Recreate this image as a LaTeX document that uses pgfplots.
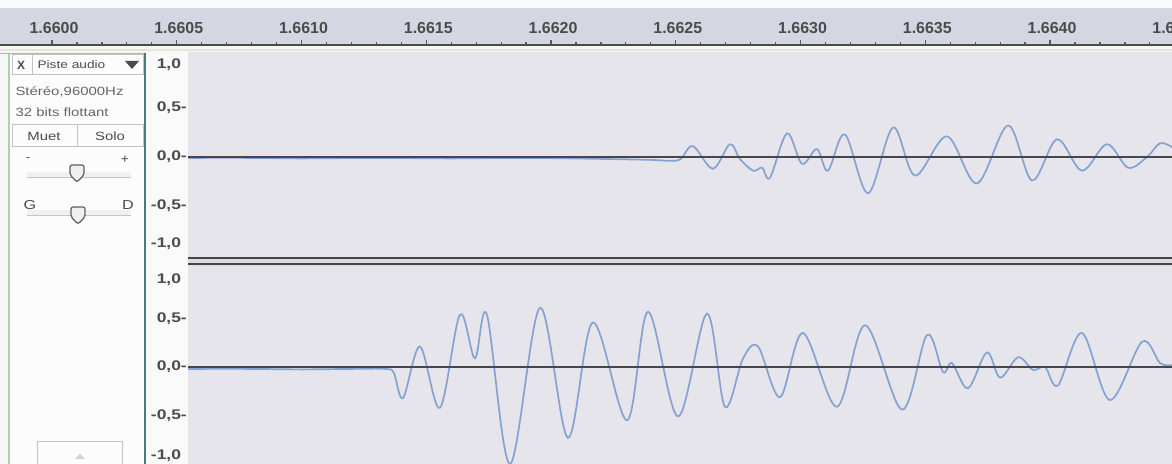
\documentclass[border=0pt]{standalone}
\usepackage{fontspec}
\setmainfont{Liberation Sans}
\newfontfamily\uifont[FakeStretch=1.25]{Liberation Sans}
\usepackage{pgfplots}
\pgfplotsset{compat=1.18}
\usepackage{pgfplotstable}

\definecolor{pagebg}{RGB}{246,246,246}
\definecolor{rulerbg}{RGB}{212,215,226}
\definecolor{wavebg}{RGB}{229,229,235}
\definecolor{wave}{RGB}{134,162,210}
\definecolor{zeroline}{RGB}{70,70,75}
\definecolor{uitext}{RGB}{75,75,75}
\definecolor{panelline}{RGB}{80,120,120}
\definecolor{btnline}{RGB}{195,195,195}

% time in ms after 1.66 s, amplitude
\pgfplotstableread{
t v
0.545 -0.01
0.80 -0.01
1.00 -0.015
1.30 -0.01
1.60 -0.015
1.90 -0.01
2.20 -0.02
2.40 -0.03
2.48 -0.04
2.52 -0.02
2.569 0.11
2.649 -0.12
2.717 0.13
2.757 -0.02
2.810 -0.14
2.846 -0.11
2.878 -0.21
2.946 0.24
3.006 -0.07
3.066 0.08
3.110 -0.14
3.178 0.23
3.271 -0.37
3.371 0.30
3.459 -0.19
3.587 0.21
3.707 -0.27
3.832 0.32
3.928 -0.24
4.028 0.18
4.128 -0.14
4.228 0.13
4.313 -0.11
4.389 0.00
4.441 0.14
4.489 0.10
}\topch

\pgfplotstableread{
t v
0.545 -0.02
0.80 -0.02
1.00 -0.025
1.20 -0.02
1.335 -0.02
1.37 -0.06
1.407 -0.32
1.475 0.21
1.555 -0.42
1.635 0.54
1.695 0.09
1.743 0.54
1.836 -1.00
1.956 0.61
2.068 -0.73
2.168 0.46
2.305 -0.55
2.389 0.57
2.509 -0.51
2.625 0.55
2.697 -0.41
2.770 0.09
2.830 0.21
2.918 -0.31
3.010 0.35
3.146 -0.41
3.259 0.43
3.407 -0.44
3.507 0.33
3.571 -0.05
3.607 0.04
3.671 -0.22
3.747 0.15
3.800 -0.11
3.872 0.10
3.932 -0.03
3.980 0.00
4.032 -0.19
4.128 0.35
4.240 -0.34
4.369 0.26
4.441 0.04
4.489 0.02
}\botch

\pgfplotsset{
  chan/.style={
    scale only axis, width=984bp, anchor=south west,
    xmin=0.5451, xmax=4.4890,
    axis background/.style={fill=wavebg},
    axis line style={draw=none},
    xtick=\empty, tick style={draw=none}, major tick length=0pt,
    yticklabel style={font=\uifont\bfseries\fontsize{14}{14}\selectfont, text=uitext, inner xsep=1bp},
  },
  wv/.style={wave, line width=1.7bp, smooth, tension=0.55},
  zl/.style={zeroline, line width=2bp},
}

\begin{document}
\begin{tikzpicture}[x=1bp,y=1bp]
\useasboundingbox (0,0) rectangle (1172,464);
\fill[pagebg] (0,0) rectangle (1172,464);
\fill[white!97!gray] (0,456) rectangle (1172,464);

% ruler
\begin{axis}[
  at={(0bp,419bp)}, anchor=south west, scale only axis,
  width=1200bp, height=37bp,
  xmin=-0.2084, xmax=4.6012, ymin=0, ymax=1,
  axis background/.style={fill=rulerbg},
  axis line style={draw=none},
  ytick=\empty,
  xtick={0,0.5,1,1.5,2,2.5,3,3.5,4,4.5},
  xticklabels={1.6600,1.6605,1.6610,1.6615,1.6620,1.6625,1.6630,1.6635,1.6640,1.6645},
  minor x tick num=4,
  xtick pos=left, tick align=inside,
  major tick length=5bp, minor tick length=3bp,
  tick style={draw=gray!70!black, line width=1.2bp},
  xticklabel style={anchor=center, xshift=2bp, yshift=17bp, font=\bfseries\fontsize{16}{16}\selectfont, text=uitext},
]
\end{axis}
\draw[gray!60!black, line width=2bp] (0,419) -- (1172,419);
\draw[yellow!30!gray!30, line width=2bp] (0,414) -- (1172,414);
\draw[gray!60, line width=0.8bp] (0,411) -- (1172,411);

% track control panel
\fill[white!98!gray] (10,0) rectangle (145,410);
\draw[green!30!gray!50, line width=1.5bp] (9,0) -- (9,410);
\fill[white!96!gray] (145,0) rectangle (188,411);
\draw[panelline, line width=2bp] (145,0) -- (145,411);

\draw[btnline, line width=1bp] (12,389) rectangle (143,409);
\draw[btnline, line width=1bp] (32,389) -- (32,409);
\node[font=\bfseries\fontsize{12}{12}\selectfont, text=uitext] at (21,399) {X};
\node[anchor=west, font=\uifont\fontsize{11}{11}\selectfont, text=uitext] at (34,399) {Piste audio};
\fill[uitext] (125,403) -- (139,403) -- (132,395) -- cycle;
\node[anchor=west, font=\uifont\fontsize{12}{12}\selectfont, text=uitext!85] at (12,372) {Stéréo,96000Hz};
\node[anchor=west, font=\uifont\fontsize{12}{12}\selectfont, text=uitext!85] at (12,352) {32 bits flottant};
\draw[btnline, line width=1bp] (12,317) rectangle (143,339);
\draw[btnline, line width=1bp] (77,317) -- (77,339);
\node[font=\uifont\fontsize{12}{12}\selectfont, text=uitext] at (44,328) {Muet};
\node[font=\uifont\fontsize{12}{12}\selectfont, text=uitext] at (110,328) {Solo};

\node[font=\fontsize{13}{13}\selectfont, text=uitext] at (28,304) {-};
\node[font=\fontsize{13}{13}\selectfont, text=uitext] at (125,304) {+};
\fill[gray!12] (27,287) rectangle (131,292);
\draw[gray!45] (27,287) -- (131,287);
\filldraw[fill=gray!12, draw=gray!75!black, line width=1.2bp, rounded corners=2bp]
  (70,299) -- (84,299) -- (84,289) -- (77,282) -- (70,289) -- cycle;
\node[font=\uifont\fontsize{13}{13}\selectfont, text=uitext] at (30,259) {G};
\node[font=\uifont\fontsize{13}{13}\selectfont, text=uitext] at (128,259) {D};
\fill[gray!12] (27,249) rectangle (131,254);
\draw[gray!45] (27,249) -- (131,249);
\filldraw[fill=gray!12, draw=gray!75!black, line width=1.2bp, rounded corners=2bp]
  (71,257) -- (85,257) -- (85,247) -- (78,240) -- (71,247) -- cycle;

\draw[btnline, line width=1bp] (37,-2) rectangle (122,22);
\fill[gray!35] (75,5) -- (85,5) -- (80,10) -- cycle;

% separator between channels
\fill[wavebg!90!gray] (188,198) rectangle (1172,207);
\draw[gray!55!black, line width=2.2bp] (188,206.5) -- (1172,206.5);
\draw[gray!55!black, line width=2bp] (188,199.5) -- (1172,199.5);

% left channel
\begin{axis}[chan, at={(188bp,207bp)}, height=205bp,
  ymin=-1.02, ymax=1.07,
  ytick={-0.88,-0.5,0,0.5,0.94},
  yticklabels={{-1,0\phantom{-}},{-0,5-},{0,0-},{0,5-},{1,0\phantom{-}}},
]
\addplot[wv] table[x=t, y=v] {\topch};
\addplot[zl] coordinates {(0.5,0) (4.6,0)};
\end{axis}

% right channel
\begin{axis}[chan, at={(188bp,0bp)}, height=198bp,
  ymin=-1.0, ymax=1.041,
  ytick={-0.91,-0.5,0,0.5,0.9},
  yticklabels={{-1,0\phantom{-}},{-0,5-},{0,0-},{0,5-},{1,0\phantom{-}}},
]
\addplot[wv] table[x=t, y=v] {\botch};
\addplot[zl] coordinates {(0.5,0) (4.6,0)};
\end{axis}
\end{tikzpicture}
\end{document}
